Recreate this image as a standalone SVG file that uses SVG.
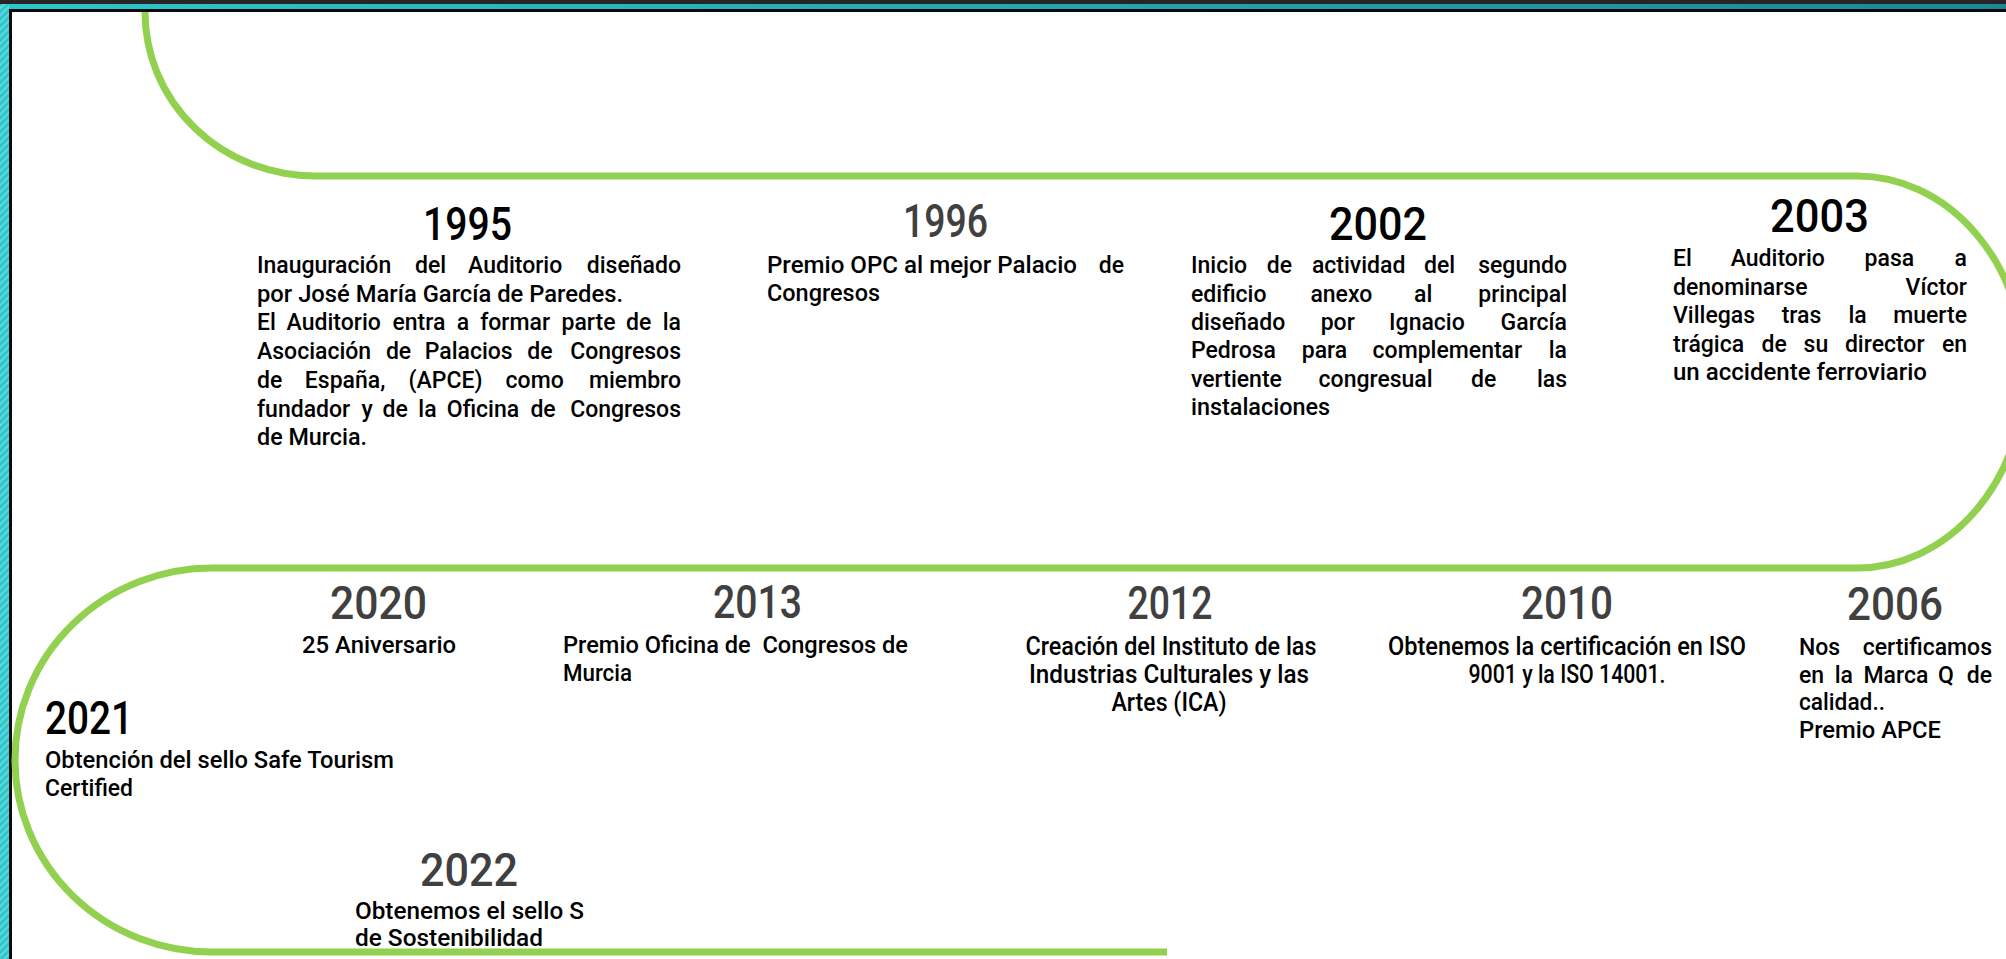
<svg xmlns="http://www.w3.org/2000/svg" width="2006" height="959" viewBox="0 0 2006 959">
<defs>
<pattern id="hatch" width="5" height="5" patternUnits="userSpaceOnUse" patternTransform="rotate(45)">
<rect width="5" height="5" fill="#2ec6cc"/>
<rect width="2" height="5" fill="#62d7da"/>
</pattern>
<linearGradient id="topg" x1="0" x2="1" y1="0" y2="0">
<stop offset="0" stop-color="#2ec6cc"/>
<stop offset="1" stop-color="#1d8796"/>
</linearGradient>
</defs>
<style>
.yr{font-family:Roboto,"Liberation Sans",sans-serif;font-size:46px;font-weight:500}
.blk{fill:#000}
.gry{fill:#404040}
.t{font-family:Roboto,"Liberation Sans",sans-serif;font-size:23px;font-weight:500;fill:#000}
.c{font-size:26px}
.c2{font-size:24px}
.m{text-anchor:middle}
.e{text-anchor:end}
.track{fill:none;stroke:#92d050;stroke-width:7}
</style>
<rect width="2006" height="959" fill="#fff"/>
<g id="frame">
<rect x="0" y="0" width="2006" height="4" fill="#262626"/>
<rect x="0" y="4" width="2006" height="5" fill="url(#topg)"/>
<rect x="0" y="4" width="9" height="955" fill="url(#hatch)"/>
<rect x="9" y="9" width="1997" height="3" fill="#0a0a0a"/>
<rect x="9" y="9" width="3" height="950" fill="#0a0a0a"/>
</g>
<g id="connectors">
<path class="track" d="M145,12 A170,164 0 0 0 315,176 L1857,176 A168,196 0 0 1 1857,568 L212,568 A197,192 0 0 0 212,952 L1167,952"/>
</g>
<g id="n1995">
<text class="yr blk" x="423" y="240" textLength="89" lengthAdjust="spacingAndGlyphs">1995</text>
<text class="t" y="273"><tspan x="257">Inauguración</tspan> <tspan x="415">del</tspan> <tspan x="468">Auditorio</tspan> <tspan x="681" class="e">diseñado</tspan></text>
<text class="t" x="257" y="302" textLength="366" lengthAdjust="spacingAndGlyphs">por José María García de Paredes.</text>
<text class="t" y="330"><tspan x="257">El</tspan> <tspan x="286.6">Auditorio</tspan> <tspan x="392.4">entra</tspan> <tspan x="456.8">a</tspan> <tspan x="480.2">formar</tspan> <tspan x="561.5">parte</tspan> <tspan x="626.1">de</tspan> <tspan x="681" class="e">la</tspan></text>
<text class="t" y="359"><tspan x="257">Asociación</tspan> <tspan x="385.9">de</tspan> <tspan x="424.7">Palacios</tspan> <tspan x="527.3">de</tspan> <tspan x="681" class="e">Congresos</tspan></text>
<text class="t" y="388"><tspan x="257">de</tspan> <tspan x="304.8">España,</tspan> <tspan x="408.6">(APCE)</tspan> <tspan x="505.6">como</tspan> <tspan x="681" class="e">miembro</tspan></text>
<text class="t" y="417"><tspan x="257">fundador</tspan> <tspan x="361.5">y</tspan> <tspan x="382.6">de</tspan> <tspan x="418.3">la</tspan> <tspan x="446.8">Oficina</tspan> <tspan x="530.4">de</tspan> <tspan x="681" class="e">Congresos</tspan></text>
<text class="t" x="257" y="445" textLength="110" lengthAdjust="spacingAndGlyphs">de Murcia.</text>
</g>
<g id="n1996">
<text class="yr gry" x="903" y="237" textLength="85" lengthAdjust="spacingAndGlyphs">1996</text>
<text class="t" x="767" y="273" textLength="310" lengthAdjust="spacingAndGlyphs">Premio OPC al mejor Palacio</text>
<text class="t e" x="1124" y="273">de</text>
<text class="t" x="767" y="301" textLength="113" lengthAdjust="spacingAndGlyphs">Congresos</text>
</g>
<g id="n2002">
<text class="yr blk" x="1329" y="240" textLength="98" lengthAdjust="spacingAndGlyphs">2002</text>
<text class="t" y="273"><tspan x="1191">Inicio</tspan> <tspan x="1266.8">de</tspan> <tspan x="1311.9">actividad</tspan> <tspan x="1424">del</tspan> <tspan x="1567" class="e">segundo</tspan></text>
<text class="t" y="302"><tspan x="1191">edificio</tspan> <tspan x="1310.4">anexo</tspan> <tspan x="1414">al</tspan> <tspan x="1567" class="e">principal</tspan></text>
<text class="t" y="330"><tspan x="1191">diseñado</tspan> <tspan x="1320.7">por</tspan> <tspan x="1389.1">Ignacio</tspan> <tspan x="1567" class="e">García</tspan></text>
<text class="t" y="358"><tspan x="1191">Pedrosa</tspan> <tspan x="1301.8">para</tspan> <tspan x="1372.6">complementar</tspan> <tspan x="1567" class="e">la</tspan></text>
<text class="t" y="387"><tspan x="1191">vertiente</tspan> <tspan x="1318.6">congresual</tspan> <tspan x="1471">de</tspan> <tspan x="1567" class="e">las</tspan></text>
<text class="t" x="1191" y="415" textLength="139" lengthAdjust="spacingAndGlyphs">instalaciones</text>
</g>
<g id="n2003">
<text class="yr blk" x="1770" y="232" textLength="99" lengthAdjust="spacingAndGlyphs">2003</text>
<text class="t" y="266"><tspan x="1673">El</tspan> <tspan x="1730.7">Auditorio</tspan> <tspan x="1864.6">pasa</tspan> <tspan x="1967" class="e">a</tspan></text>
<text class="t" y="295"><tspan x="1673">denominarse</tspan> <tspan x="1967" class="e">Víctor</tspan></text>
<text class="t" y="323"><tspan x="1673">Villegas</tspan> <tspan x="1781.7">tras</tspan> <tspan x="1848.4">la</tspan> <tspan x="1967" class="e">muerte</tspan></text>
<text class="t" y="352"><tspan x="1673">trágica</tspan> <tspan x="1761.6">de</tspan> <tspan x="1803.6">su</tspan> <tspan x="1844.9">director</tspan> <tspan x="1967" class="e">en</tspan></text>
<text class="t" x="1673" y="380" textLength="254" lengthAdjust="spacingAndGlyphs">un accidente ferroviario</text>
</g>
<g id="n2006">
<text class="yr gry" x="1847" y="620" textLength="96" lengthAdjust="spacingAndGlyphs">2006</text>
<text class="t" y="655"><tspan x="1799">Nos</tspan> <tspan x="1992" class="e">certificamos</tspan></text>
<text class="t" y="683"><tspan x="1799">en</tspan> <tspan x="1834.7">la</tspan> <tspan x="1863.5">Marca</tspan> <tspan x="1938">Q</tspan> <tspan x="1992" class="e">de</tspan></text>
<text class="t" x="1799" y="710" textLength="86" lengthAdjust="spacingAndGlyphs">calidad..</text>
<text class="t" x="1799" y="738" textLength="142" lengthAdjust="spacingAndGlyphs">Premio APCE</text>
</g>
<g id="n2010">
<text class="yr gry m" x="1567" y="619" textLength="92" lengthAdjust="spacingAndGlyphs">2010</text>
<text class="t c m" x="1567" y="655" textLength="358" lengthAdjust="spacingAndGlyphs">Obtenemos la certificación en ISO</text>
<text class="t c m" x="1567" y="683" textLength="197" lengthAdjust="spacingAndGlyphs">9001 y la ISO 14001.</text>
</g>
<g id="n2012">
<text class="yr gry m" x="1170" y="619" textLength="85" lengthAdjust="spacingAndGlyphs">2012</text>
<text class="t c m" x="1171" y="655" textLength="291" lengthAdjust="spacingAndGlyphs">Creación del Instituto de las</text>
<text class="t c m" x="1169" y="683" textLength="280" lengthAdjust="spacingAndGlyphs">Industrias Culturales y las</text>
<text class="t c m" x="1169" y="711" textLength="115" lengthAdjust="spacingAndGlyphs">Artes (ICA)</text>
</g>
<g id="n2013">
<text class="yr gry" x="713" y="618" textLength="89" lengthAdjust="spacingAndGlyphs">2013</text>
<text class="t" x="563" y="653" textLength="345" lengthAdjust="spacingAndGlyphs" xml:space="preserve">Premio Oficina de  Congresos de</text>
<text class="t" x="563" y="681" textLength="69" lengthAdjust="spacingAndGlyphs">Murcia</text>
</g>
<g id="n2020">
<text class="yr gry" x="330" y="619" textLength="97" lengthAdjust="spacingAndGlyphs">2020</text>
<text class="t" x="302" y="653" textLength="154" lengthAdjust="spacingAndGlyphs">25 Aniversario</text>
</g>
<g id="n2021">
<text class="yr blk" x="45" y="734" textLength="88" lengthAdjust="spacingAndGlyphs">2021</text>
<text class="t" x="45" y="768" textLength="349" lengthAdjust="spacingAndGlyphs">Obtención del sello Safe Tourism</text>
<text class="t" x="45" y="796" textLength="88" lengthAdjust="spacingAndGlyphs">Certified</text>
</g>
<g id="n2022">
<text class="yr gry" x="420" y="886" textLength="98" lengthAdjust="spacingAndGlyphs">2022</text>
<text class="t c2" x="355" y="919" textLength="229" lengthAdjust="spacingAndGlyphs">Obtenemos el sello S</text>
<text class="t c2" x="355" y="946" textLength="188" lengthAdjust="spacingAndGlyphs">de Sostenibilidad</text>
</g>
</svg>
